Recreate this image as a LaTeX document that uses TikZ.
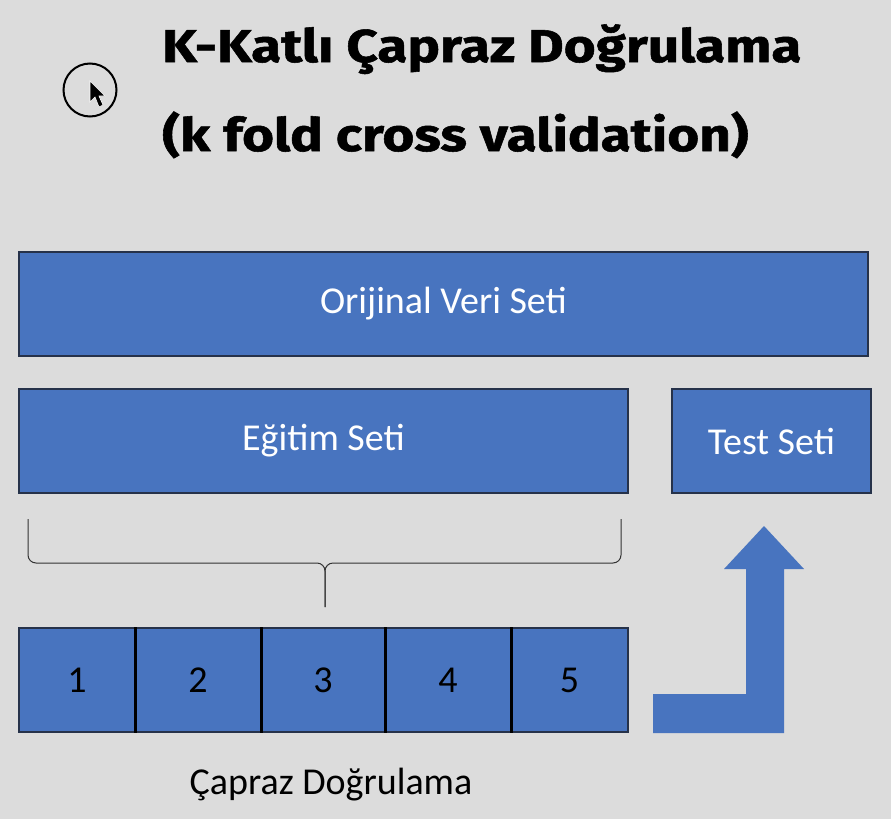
\documentclass[tikz,border=0pt]{standalone}
\usepackage{fontspec}
\setmainfont{Carlito}
\newfontfamily\titlefont[FakeStretch=1.19, FakeBold=1.2]{Fira Sans}
\usetikzlibrary{positioning}
\definecolor{boxblue}{HTML}{4874BF}
\definecolor{bggrey}{HTML}{DCDCDC}
\definecolor{edgedark}{HTML}{26324A}

\begin{document}
\begin{tikzpicture}[x=1pt,y=-1pt,
    setbox/.style={draw=edgedark, line width=1.2pt, fill=boxblue, text=white,
      minimum height=104pt, inner sep=0pt, font=\fontsize{38}{44}\selectfont},
    fold/.style={setbox, text=black},
    divider/.style={line width=3pt, black},
    bracepath/.style={draw=black!80, line width=1pt, rounded corners=8pt},
    title/.style={anchor=base west, inner sep=0pt,
      font=\titlefont\bfseries\fontsize{46}{54}\selectfont}]
  \fill[bggrey] (0,0) rectangle (891,819);

  \node[title] (head1) at (162,62) {K-Katlı Çapraz Doğrulama};
  \node[title] (head2) at (162,151) {(k fold cross validation)};

  \draw[line width=2pt] (90,90) circle (26.5);
  \filldraw[fill=black, draw=white, line width=.6pt]
    (90,81) -- (90,102) -- (95,97) -- (99,107) -- (103,105) -- (99,96) -- (105,96) -- cycle;

  \node[setbox, minimum width=849pt] (orig) at (443.5,304) {Orijinal Veri Seti};
  \node[setbox, minimum width=609pt] (train) at (323.5,441) {Eğitim Seti};
  \node[setbox, minimum width=199pt] (test) at (771.5,441) {Test Seti};

  \draw[bracepath] (28,519) |- (325,563) -- (325,607);
  \draw[bracepath] (621,519) |- (325,563) -- (325,607);

  \foreach \a/\b/\n in {19/135/1, 135/261/2, 261/385/3, 385/511/4, 511/628/5}
    \node[fold, minimum width={(\b-\a)*1pt}] (f\n) at ({(\a+\b)/2},680) {\n};
  \foreach \n in {1,...,4}
    \draw[divider] (f\n.north east) -- (f\n.south east);

  \node[font=\fontsize{38}{44}\selectfont] (caption) at (331,785) {Çapraz Doğrulama};

  \fill[boxblue] (653,694) -- (746,694) -- (746,569) -- (724,569) -- (764,526)
    -- (804,569) -- (784,569) -- (784,733) -- (653,733) -- cycle;
\end{tikzpicture}
\end{document}
